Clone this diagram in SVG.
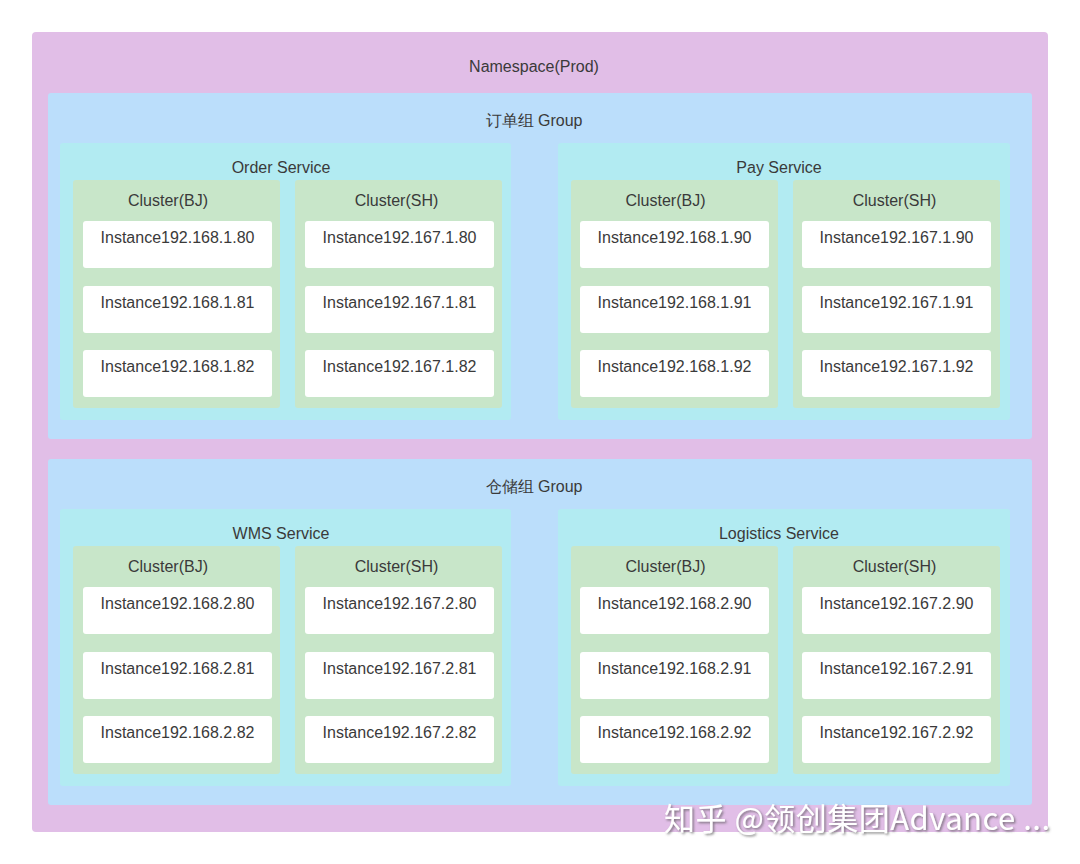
<svg xmlns="http://www.w3.org/2000/svg" width="1080" height="864" viewBox="0 0 1080 864">
<defs>
<style>
.ns{fill:#E1BEE7}
.grp{fill:#BBDEFB}
.svc{fill:#B2EBF2}
.cl{fill:#C8E6C9}
.inst{fill:#FFFFFF}
text{font-family:"Liberation Sans","Noto Sans",Arial,sans-serif;font-size:16px;fill:#3a3a3a;text-anchor:middle}
.wm{font-family:"Noto Sans CJK SC","Noto Sans",sans-serif;font-size:31px;fill:#FFFFFF;text-anchor:start;filter:url(#sh)}
</style>
<filter id="sh" x="-5%" y="-30%" width="110%" height="160%">
<feDropShadow dx="1.5" dy="1.5" stdDeviation="0.8" flood-color="#555" flood-opacity="0.7"/>
</filter>
</defs>
<rect width="1080" height="864" fill="#FFFFFF"/>
<g id="namespace">
<rect class="ns" x="32" y="32" width="1016" height="800" rx="4"/>
<text x="534" y="72">Namespace(Prod)</text>
</g>
<g id="group-order">
<rect class="grp" x="48" y="93" width="984" height="346" rx="3"/>
<text x="534" y="126">订单组 Group</text>
</g>
<g id="order-service">
<rect class="svc" x="60" y="143" width="451" height="277" rx="3"/>
<text x="281" y="173">Order Service</text>
</g>
<g id="order-bj">
<rect class="cl" x="73" y="180" width="207" height="228" rx="3"/>
<text x="168" y="206">Cluster(BJ)</text>
<rect class="inst" x="83" y="221" width="189" height="47" rx="3"/>
<text x="177.5" y="243">Instance192.168.1.80</text>
<rect class="inst" x="83" y="286" width="189" height="47" rx="3"/>
<text x="177.5" y="308">Instance192.168.1.81</text>
<rect class="inst" x="83" y="350" width="189" height="47" rx="3"/>
<text x="177.5" y="372">Instance192.168.1.82</text>
</g>
<g id="order-sh">
<rect class="cl" x="295" y="180" width="207" height="228" rx="3"/>
<text x="396.5" y="206">Cluster(SH)</text>
<rect class="inst" x="305" y="221" width="189" height="47" rx="3"/>
<text x="399.5" y="243">Instance192.167.1.80</text>
<rect class="inst" x="305" y="286" width="189" height="47" rx="3"/>
<text x="399.5" y="308">Instance192.167.1.81</text>
<rect class="inst" x="305" y="350" width="189" height="47" rx="3"/>
<text x="399.5" y="372">Instance192.167.1.82</text>
</g>
<g id="pay-service">
<rect class="svc" x="558" y="143" width="452" height="277" rx="3"/>
<text x="779" y="173">Pay Service</text>
</g>
<g id="pay-bj">
<rect class="cl" x="571" y="180" width="207" height="228" rx="3"/>
<text x="665.5" y="206">Cluster(BJ)</text>
<rect class="inst" x="580" y="221" width="189" height="47" rx="3"/>
<text x="674.5" y="243">Instance192.168.1.90</text>
<rect class="inst" x="580" y="286" width="189" height="47" rx="3"/>
<text x="674.5" y="308">Instance192.168.1.91</text>
<rect class="inst" x="580" y="350" width="189" height="47" rx="3"/>
<text x="674.5" y="372">Instance192.168.1.92</text>
</g>
<g id="pay-sh">
<rect class="cl" x="793" y="180" width="207" height="228" rx="3"/>
<text x="894.5" y="206">Cluster(SH)</text>
<rect class="inst" x="802" y="221" width="189" height="47" rx="3"/>
<text x="896.5" y="243">Instance192.167.1.90</text>
<rect class="inst" x="802" y="286" width="189" height="47" rx="3"/>
<text x="896.5" y="308">Instance192.167.1.91</text>
<rect class="inst" x="802" y="350" width="189" height="47" rx="3"/>
<text x="896.5" y="372">Instance192.167.1.92</text>
</g>
<g id="group-wms">
<rect class="grp" x="48" y="459" width="984" height="346" rx="3"/>
<text x="534" y="492">仓储组 Group</text>
</g>
<g id="wms-service">
<rect class="svc" x="60" y="509" width="451" height="277" rx="3"/>
<text x="281" y="539">WMS Service</text>
</g>
<g id="wms-bj">
<rect class="cl" x="73" y="546" width="207" height="228" rx="3"/>
<text x="168" y="572">Cluster(BJ)</text>
<rect class="inst" x="83" y="587" width="189" height="47" rx="3"/>
<text x="177.5" y="609">Instance192.168.2.80</text>
<rect class="inst" x="83" y="652" width="189" height="47" rx="3"/>
<text x="177.5" y="674">Instance192.168.2.81</text>
<rect class="inst" x="83" y="716" width="189" height="47" rx="3"/>
<text x="177.5" y="738">Instance192.168.2.82</text>
</g>
<g id="wms-sh">
<rect class="cl" x="295" y="546" width="207" height="228" rx="3"/>
<text x="396.5" y="572">Cluster(SH)</text>
<rect class="inst" x="305" y="587" width="189" height="47" rx="3"/>
<text x="399.5" y="609">Instance192.167.2.80</text>
<rect class="inst" x="305" y="652" width="189" height="47" rx="3"/>
<text x="399.5" y="674">Instance192.167.2.81</text>
<rect class="inst" x="305" y="716" width="189" height="47" rx="3"/>
<text x="399.5" y="738">Instance192.167.2.82</text>
</g>
<g id="logistics-service">
<rect class="svc" x="558" y="509" width="452" height="277" rx="3"/>
<text x="779" y="539">Logistics Service</text>
</g>
<g id="logistics-bj">
<rect class="cl" x="571" y="546" width="207" height="228" rx="3"/>
<text x="665.5" y="572">Cluster(BJ)</text>
<rect class="inst" x="580" y="587" width="189" height="47" rx="3"/>
<text x="674.5" y="609">Instance192.168.2.90</text>
<rect class="inst" x="580" y="652" width="189" height="47" rx="3"/>
<text x="674.5" y="674">Instance192.168.2.91</text>
<rect class="inst" x="580" y="716" width="189" height="47" rx="3"/>
<text x="674.5" y="738">Instance192.168.2.92</text>
</g>
<g id="logistics-sh">
<rect class="cl" x="793" y="546" width="207" height="228" rx="3"/>
<text x="894.5" y="572">Cluster(SH)</text>
<rect class="inst" x="802" y="587" width="189" height="47" rx="3"/>
<text x="896.5" y="609">Instance192.167.2.90</text>
<rect class="inst" x="802" y="652" width="189" height="47" rx="3"/>
<text x="896.5" y="674">Instance192.167.2.91</text>
<rect class="inst" x="802" y="716" width="189" height="47" rx="3"/>
<text x="896.5" y="738">Instance192.167.2.92</text>
</g>
<g id="connectors"></g>
<g id="watermark">
<text class="wm" x="664" y="830" textLength="386" lengthAdjust="spacing">知乎 @领创集团Advance ...</text>
</g>
</svg>
